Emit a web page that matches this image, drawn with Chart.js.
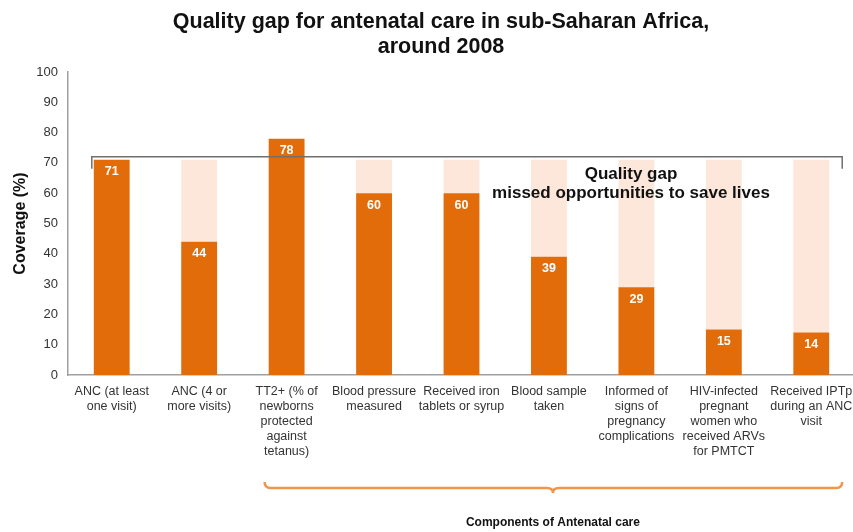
<!DOCTYPE html>
<html>
<head>
<meta charset="utf-8">
<script src="https://cdn.jsdelivr.net/npm/chart.js@4.4.0/dist/chart.umd.min.js"></script>
<style>
  body { margin: 0; background: #fff; overflow: hidden; }
  #wrap { width: 862px; height: 532px; position: relative; }
</style>
</head>
<body>
<div id="wrap"><canvas id="chart"></canvas></div>
<script>
// data
const categories = [
    ['ANC (at least', 'one visit)'],
    ['ANC (4 or', 'more visits)'],
    ['TT2+ (% of', 'newborns', 'protected', 'against', 'tetanus)'],
    ['Blood pressure', 'measured'],
    ['Received iron', 'tablets or syrup'],
    ['Blood sample', 'taken'],
    ['Informed of', 'signs of', 'pregnancy', 'complications'],
    ['HIV-infected', 'pregnant', 'women who', 'received ARVs', 'for PMTCT'],
    ['Received IPTp', 'during an ANC', 'visit']
];
const coverage = [71, 44, 78, 60, 60, 39, 29, 15, 14];
const gap = [0, 27, 0, 11, 11, 32, 42, 56, 57];
const bracketLevel = 72;

const ORANGE = '#e36c0a';
const PEACH = '#fce7da';

const FONT = 'Liberation Sans, Arial, sans-serif';

// extra drawing: title, value labels, quality gap bracket, brace
const extras = {
    id: 'extras',
    afterDatasetsDraw(chart) {
        const ctx = chart.ctx;
        const x = chart.scales.x, y = chart.scales.y;
        const meta = chart.getDatasetMeta(0);

        // value labels inside orange bars
        ctx.save();
        ctx.fillStyle = '#fff';
        ctx.font = 'bold 12.5px ' + FONT;
        ctx.textAlign = 'center';
        ctx.textBaseline = 'middle';
        meta.data.forEach((bar, i) => {
            ctx.fillText(coverage[i], bar.x, bar.y + 12);
        });
        ctx.restore();

        // quality gap bracket
        const first = meta.data[0], last = meta.data[meta.data.length - 1];
        const x0 = first.x - first.width / 2 - 2;
        const x1 = last.x + last.width / 2 + 13;
        const yb = y.getPixelForValue(bracketLevel);
        ctx.save();
        ctx.strokeStyle = '#6f6f6f';
        ctx.lineWidth = 1.5;
        ctx.beginPath();
        ctx.moveTo(x0, yb + 12);
        ctx.lineTo(x0, yb);
        ctx.lineTo(x1, yb);
        ctx.lineTo(x1, yb + 12);
        ctx.stroke();

        ctx.fillStyle = '#111';
        ctx.font = 'bold 17px ' + FONT;
        ctx.textAlign = 'center';
        ctx.textBaseline = 'middle';
        ctx.fillText('Quality gap', 631, 174);
        ctx.fillText('missed opportunities to save lives', 631, 193);
        ctx.restore();

        // brace under components
        const bx0 = x.getPixelForValue(2) - 22, bx1 = x1;
        const bm = x.getPixelForValue(5) + 4;
        const by = 488;
        ctx.save();
        ctx.strokeStyle = '#f0964a';
        ctx.lineWidth = 2.5;
        ctx.beginPath();
        ctx.moveTo(bx0, by - 6);
        ctx.quadraticCurveTo(bx0, by, bx0 + 6, by);
        ctx.lineTo(bm - 6, by);
        ctx.quadraticCurveTo(bm, by, bm, by + 5);
        ctx.quadraticCurveTo(bm, by, bm + 6, by);
        ctx.lineTo(bx1 - 6, by);
        ctx.quadraticCurveTo(bx1, by, bx1, by - 6);
        ctx.stroke();

        ctx.fillStyle = '#111';
        ctx.font = 'bold 12px ' + FONT;
        ctx.textAlign = 'center';
        ctx.textBaseline = 'middle';
        ctx.fillText('Components of Antenatal care', bm, 523);

        // title
        ctx.font = 'bold 21.5px ' + FONT;
        ctx.fillText('Quality gap for antenatal care in sub-Saharan Africa,', 441, 22);
        ctx.fillText('around 2008', 441, 47);
        ctx.restore();
    }
};

new Chart(document.getElementById('chart'), {
    type: 'bar',
    data: {
        labels: categories,
        datasets: [
            {
                label: 'Coverage',
                data: coverage,
                backgroundColor: ORANGE,
                barPercentage: 0.41,
                categoryPercentage: 1
            },
            {
                label: 'Quality gap',
                data: gap,
                backgroundColor: PEACH,
                barPercentage: 0.41,
                categoryPercentage: 1
            }
        ]
    },
    options: {
        responsive: true,
        maintainAspectRatio: false,
        animation: false,
        layout: { padding: { top: 72, right: 7, bottom: 0, left: 0 } },
        plugins: {
            legend: { display: false },
            title: { display: false },
            tooltip: { enabled: false }
        },
        scales: {
            x: {
                stacked: true,
                grid: { display: false, drawTicks: false },
                border: { display: true, color: '#a0a0a0', width: 1.5 },
                ticks: {
                    autoSkip: false,
                    maxRotation: 0,
                    padding: 9,
                    color: '#333',
                    font: { family: FONT, size: 12.5, lineHeight: 1.2 }
                },
                afterFit(scale) { scale.height = 157; }
            },
            y: {
                stacked: true,
                min: 0,
                max: 100,
                grid: { display: false, drawTicks: false },
                border: { display: true, color: '#a0a0a0', width: 1.5 },
                ticks: {
                    stepSize: 10,
                    padding: 10,
                    color: '#333',
                    font: { family: FONT, size: 13 }
                },
                title: {
                    display: true,
                    text: 'Coverage (%)',
                    color: '#111',
                    padding: { top: 11, bottom: 0 },
                    font: { family: FONT, size: 16, weight: 'bold' }
                },
                afterFit(scale) { scale.width = 68; }
            }
        }
    },
    plugins: [extras]
});
</script>
</body>
</html>
